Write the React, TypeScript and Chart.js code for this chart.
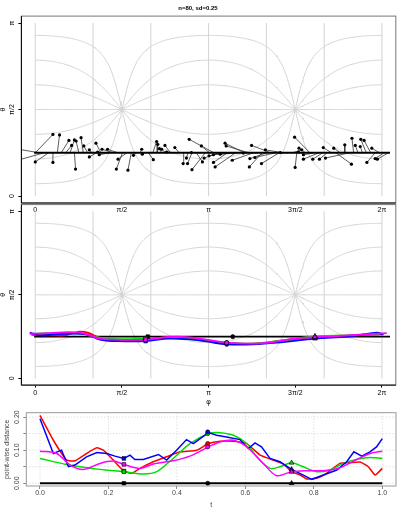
import React, { useEffect, useRef } from 'react';
import { Chart, registerables } from 'chart.js';

Chart.register(...registerables);

const PI = Math.PI;
const FONT = '"Liberation Sans", Arial, Helvetica, sans-serif';

// ---------------- Panel 1: noisy observations (phi, theta) and their true positions -------------
const OBS_PHI = [
  -0.60, -0.50, 0.00, 0.32, 0.32, 0.44, 0.61, 0.66, 0.71, 0.73,
  0.74, 0.83, 0.88, 0.98, 0.98, 1.10, 1.13, 1.16, 1.21, 1.31,
  1.47, 1.50, 1.68, 1.78, 1.93, 1.94, 2.14, 2.20, 2.22, 2.25,
  2.29, 2.35, 2.38, 2.53, 2.68, 2.74, 2.76, 2.79, 2.83, 2.84,
  3.01, 3.03, 3.06, 3.15, 3.23, 3.23, 3.26, 3.35, 3.44, 3.46,
  3.57, 3.77, 3.88, 3.89, 3.92, 3.98, 4.10, 4.17, 4.44, 4.70,
  4.71, 4.77, 4.78, 4.83, 4.86, 4.86, 5.03, 5.15, 5.22, 5.26,
  5.41, 5.61, 5.73, 5.74, 5.80, 5.89, 5.90, 5.96, 6.01, 6.10,
  6.16, 6.20,
];
const OBS_THETA = [
  0.90, 0.60, 0.62, 1.12, 0.61, 1.11, 1.01, 0.92, 1.02, 0.49,
  1.00, 1.06, 0.91, 0.84, 0.71, 0.96, 0.80, 0.75, 0.85, 0.85,
  0.49, 0.67, 0.47, 0.74, 0.85, 0.76, 0.66, 0.99, 0.94, 0.86,
  0.85, 0.92, 0.80, 0.88, 0.59, 0.69, 0.59, 1.03, 0.79, 0.48,
  0.91, 0.62, 0.69, 0.73, 0.61, 0.75, 0.53, 0.76, 0.96, 0.91,
  0.65, 0.78, 0.53, 0.68, 0.92, 0.70, 0.59, 0.84, 0.79, 1.07,
  0.52, 0.80, 0.87, 0.84, 0.75, 0.67, 0.67, 0.67, 0.88, 0.69,
  0.87, 0.93, 0.58, 1.05, 0.92, 0.90, 1.03, 1.01, 0.61, 0.87,
  0.68, 0.67,
];
const TRUE_PHI = [
  0.08, 0.16, 0.24, 0.00, 0.32, 0.40, 0.47, 0.55, 0.63, 0.71,
  0.79, 0.87, 0.95, 1.03, 1.11, 1.19, 1.26, 1.34, 1.42, 1.50,
  1.58, 1.66, 1.74, 1.82, 1.90, 1.98, 2.05, 2.13, 2.21, 2.29,
  2.37, 2.45, 2.53, 2.61, 2.69, 2.77, 2.84, 3.24, 3.00, 3.08,
  3.16, 2.92, 3.32, 3.40, 3.48, 3.56, 3.63, 3.71, 3.79, 3.87,
  3.95, 4.03, 4.11, 4.19, 4.27, 4.35, 4.42, 4.50, 4.58, 4.98,
  4.74, 4.82, 4.90, 4.66, 5.06, 5.14, 5.21, 5.29, 5.37, 5.69,
  5.53, 5.61, 5.45, 5.77, 5.85, 5.93, 6.00, 6.08, 6.16, 6.24,
  6.32, 6.40,
];
const TRUE_THETA = 0.785;
const TRUE_CURVE_PHI = [-0.02, 6.43];
const TRUE_CURVE_THETA = [0.785, 0.785];

// graticule of the rotated frame: meridians (multiples of pi/3) and tilted great circles (multiples of pi/7)
const MERIDIAN_STEPS = [0, 1, 2, 3, 4, 5, 6];
const TILT_STEPS = [-3, -2, -1, 0, 1, 2, 3];

// ---------------- Panel 2: estimated curves ----------------
const RED_PHI = [-0.07, 0.31, 0.53, 0.65, 0.80, 0.95, 1.10, 1.30, 1.55, 2.00, 2.38, 2.74, 3.10, 3.47, 3.95, 4.50, 5.07, 5.70, 6.31];
const RED_THETA = [0.82, 0.81, 0.81, 0.84, 0.88, 0.86, 0.79, 0.72, 0.70, 0.73, 0.777, 0.765, 0.715, 0.665, 0.653, 0.715, 0.777, 0.808, 0.827];
const GREEN_PHI = [-0.04, 0.39, 0.81, 1.17, 1.50, 2.00, 2.56, 2.99, 3.47, 3.95, 4.49, 5.07, 5.70, 6.25];
const GREEN_THETA = [0.84, 0.851, 0.84, 0.765, 0.74, 0.747, 0.758, 0.715, 0.672, 0.653, 0.715, 0.79, 0.81, 0.84];
const BLUE_PHI = [-0.10, 0.09, 0.33, 0.60, 0.93, 1.17, 1.48, 2.00, 2.38, 2.74, 3.10, 3.47, 3.95, 4.49, 5.07, 5.70, 6.19, 6.31];
const BLUE_THETA = [0.859, 0.808, 0.827, 0.84, 0.827, 0.728, 0.702, 0.702, 0.747, 0.739, 0.696, 0.64, 0.64, 0.683, 0.747, 0.79, 0.859, 0.827];
const MAGENTA_PHI = [-0.10, 0.27, 0.57, 0.81, 0.99, 1.17, 1.48, 2.00, 2.38, 2.74, 3.10, 3.47, 3.95, 4.31, 4.68, 5.07, 5.40, 5.88, 6.37];
const MAGENTA_THETA = [0.84, 0.851, 0.87, 0.859, 0.808, 0.747, 0.728, 0.728, 0.777, 0.777, 0.728, 0.672, 0.653, 0.683, 0.747, 0.777, 0.79, 0.821, 0.851];

const MID_MARK_PHI = [2.00, 3.47, 5.07];
const MID_BLACK_MARK_PHI = [2.04, 3.58, 5.07];
const MID_BLACK_MARK_THETA = [0.784, 0.784, 0.79];
const MID_RED_MARK = [0.728, 0.665, 0.777];
const MID_GREEN_MARK = [0.747, 0.672, 0.79];
const MID_BLUE_MARK = [0.702, 0.64, 0.747];
const MID_MAGENTA_MARK = [0.728, 0.672, 0.777];

// ---------------- Panel 3: point-wise distance ----------------
const RED_T = [0, 0.039, 0.078, 0.102, 0.136, 0.166, 0.185, 0.214, 0.245, 0.268, 0.292, 0.331, 0.370, 0.409, 0.458, 0.492, 0.526, 0.565, 0.604, 0.643, 0.681, 0.711, 0.735, 0.760, 0.779, 0.808, 0.837, 0.876, 0.906, 0.935, 0.959, 0.979, 1.0];
const RED_D = [0.205, 0.130, 0.070, 0.068, 0.090, 0.107, 0.100, 0.070, 0.037, 0.030, 0.045, 0.065, 0.080, 0.095, 0.100, 0.120, 0.127, 0.127, 0.120, 0.085, 0.070, 0.058, 0.035, 0.025, 0.013, 0.015, 0.030, 0.060, 0.062, 0.064, 0.050, 0.025, 0.045];
const BLUE_T = [0, 0.039, 0.063, 0.083, 0.102, 0.136, 0.166, 0.195, 0.219, 0.245, 0.263, 0.277, 0.302, 0.346, 0.370, 0.399, 0.428, 0.448, 0.492, 0.516, 0.545, 0.584, 0.609, 0.628, 0.647, 0.672, 0.701, 0.735, 0.759, 0.794, 0.828, 0.867, 0.896, 0.917, 0.940, 0.964, 0.983, 1.0];
const BLUE_D = [0.195, 0.090, 0.100, 0.050, 0.055, 0.080, 0.093, 0.090, 0.082, 0.075, 0.085, 0.072, 0.072, 0.087, 0.070, 0.100, 0.132, 0.120, 0.153, 0.145, 0.140, 0.132, 0.105, 0.122, 0.110, 0.075, 0.065, 0.042, 0.030, 0.012, 0.025, 0.040, 0.065, 0.095, 0.082, 0.095, 0.110, 0.135];
const GREEN_T = [0, 0.078, 0.175, 0.245, 0.302, 0.341, 0.389, 0.438, 0.492, 0.526, 0.565, 0.604, 0.633, 0.672, 0.701, 0.735, 0.769, 0.808, 0.847, 0.886, 0.925, 0.964, 1.0];
const GREEN_D = [0.075, 0.057, 0.042, 0.035, 0.028, 0.035, 0.075, 0.120, 0.150, 0.153, 0.145, 0.120, 0.080, 0.045, 0.050, 0.062, 0.050, 0.035, 0.040, 0.060, 0.072, 0.078, 0.075];
const MAGENTA_T = [0, 0.049, 0.088, 0.127, 0.175, 0.214, 0.245, 0.292, 0.331, 0.389, 0.438, 0.492, 0.526, 0.565, 0.604, 0.652, 0.691, 0.735, 0.779, 0.828, 0.876, 0.925, 0.964, 1.0];
const MAGENTA_D = [0.097, 0.090, 0.055, 0.042, 0.060, 0.067, 0.057, 0.045, 0.058, 0.068, 0.082, 0.110, 0.125, 0.130, 0.110, 0.060, 0.023, 0.035, 0.038, 0.038, 0.047, 0.072, 0.090, 0.097];
const BLACK_T = [0, 1];
const BLACK_D = [0, 0];

const MARK_T = [0.245, 0.49, 0.735];
const DIST_RED_MARK = [0.037, 0.120, 0.035];
const DIST_GREEN_MARK = [0.035, 0.150, 0.062];
const DIST_BLUE_MARK = [0.075, 0.155, 0.042];
const DIST_MAGENTA_MARK = [0.057, 0.110, 0.035];
const DIST_BLACK_MARK = [0, 0, 0];
const MARK_STYLES = ['rect', 'circle', 'triangle'];
const MARK_RADII = [2.6, 2.1, 2.8];

const PHI_TICKS = [0, PI / 2, PI, (3 * PI) / 2, 2 * PI];
const PHI_LABELS = ['0', 'π/2', 'π', '3π/2', '2π'];
const THETA_TICKS = [0, PI / 2, PI];
const THETA_LABELS = ['0', 'π/2', 'π'];
const T_TICKS = [0, 0.2, 0.4, 0.6, 0.8, 1.0];
const D_TICKS = [0, 0.05, 0.1, 0.15, 0.2];
const D_LABEL_VALUES = [0, 0.1, 0.2];
const D_LABELS = ['0.00', '0.10', '0.20'];

const C_RED = '#ff0000';
const C_GREEN = '#00dd00';
const C_BLUE = '#0000ff';
const C_MAGENTA = '#ff00ff';
const C_GRAT = '#d3d3d3';

const pts = (xs: number[], ys: number[]) => xs.map((x, i) => ({ x, y: ys[i] }));

function graticule() {
  const out: { x: number; y: number | null }[] = [];
  for (const k of MERIDIAN_STEPS) {
    const p = (k * PI) / 3;
    out.push({ x: p, y: 0 }, { x: p, y: PI }, { x: p, y: null });
  }
  for (const j of TILT_STEPS) {
    const tk = Math.tan((j * PI) / 7);
    for (let i = 0; i <= 360; i++) {
      const p = (2 * PI * i) / 360;
      out.push({ x: p, y: PI / 2 - Math.atan(tk * Math.cos(p)) });
    }
    out.push({ x: 2 * PI, y: null });
  }
  return out;
}

function segments() {
  const out: { x: number; y: number | null }[] = [];
  OBS_PHI.forEach((p, i) => {
    out.push({ x: p, y: OBS_THETA[i] }, { x: TRUE_PHI[i], y: TRUE_THETA }, { x: TRUE_PHI[i], y: null });
  });
  return out;
}

type FrameCfg = {
  box: string;
  axisDark: boolean;
  labelVals: number[];
  labels: string[];
  labelX: number;
  color: string;
  title?: string;
  titleX?: number;
  dotX?: number[];
  dotY?: number[];
};

function makeFrame(cfg: FrameCfg) {
  return {
    id: 'frame',
    beforeDatasetsDraw(chart: any) {
      if (!cfg.dotX && !cfg.dotY) return;
      const { ctx, chartArea: a, scales } = chart;
      ctx.save();
      ctx.strokeStyle = '#d3d3d3';
      ctx.lineWidth = 1;
      ctx.setLineDash([1, 2]);
      ctx.beginPath();
      (cfg.dotX || []).forEach((v) => {
        const p = scales.x.getPixelForValue(v);
        ctx.moveTo(p, a.top);
        ctx.lineTo(p, a.bottom);
      });
      (cfg.dotY || []).forEach((v) => {
        const p = scales.y.getPixelForValue(v);
        ctx.moveTo(a.left, p);
        ctx.lineTo(a.right, p);
      });
      ctx.stroke();
      ctx.restore();
    },
    afterDraw(chart: any) {
      const { ctx, chartArea: a, scales } = chart;
      ctx.save();
      ctx.lineWidth = 1;
      ctx.strokeStyle = cfg.box;
      ctx.strokeRect(a.left, a.top, a.right - a.left, a.bottom - a.top);
      if (cfg.axisDark) {
        ctx.strokeStyle = '#000';
        ctx.beginPath();
        ctx.moveTo(a.left, a.top);
        ctx.lineTo(a.left, a.bottom);
        ctx.lineTo(a.right, a.bottom);
        ctx.stroke();
      }
      ctx.fillStyle = cfg.color;
      ctx.font = `7px ${FONT}`;
      ctx.textAlign = 'center';
      ctx.textBaseline = 'middle';
      cfg.labelVals.forEach((v, i) => {
        const py = scales.y.getPixelForValue(v);
        ctx.save();
        ctx.translate(cfg.labelX, py);
        ctx.rotate(-PI / 2);
        ctx.fillText(cfg.labels[i], 0, 0);
        ctx.restore();
      });
      if (cfg.title) {
        ctx.save();
        ctx.translate(cfg.titleX, (a.top + a.bottom) / 2);
        ctx.rotate(-PI / 2);
        ctx.fillText(cfg.title, 0, 0);
        ctx.restore();
      }
      ctx.restore();
    },
  };
}

function phiAxis(height: number, withTicks: boolean, pad: number, title?: { text: string; bottom: number }) {
  return {
    type: 'linear',
    position: 'bottom',
    min: -0.2513,
    max: 2 * PI + 0.2513,
    afterBuildTicks: (s: any) => {
      s.ticks = PHI_TICKS.map((v) => ({ value: v }));
    },
    afterFit: (s: any) => {
      s.height = height;
    },
    ticks: {
      autoSkip: false,
      maxRotation: 0,
      minRotation: 0,
      padding: pad,
      color: '#000',
      font: { family: FONT, size: 7 },
      callback: (_v: any, i: number) => PHI_LABELS[i],
    },
    grid: {
      display: withTicks,
      drawOnChartArea: false,
      drawTicks: withTicks,
      tickLength: 2.5,
      tickColor: '#000',
    },
    border: { display: false },
    title: title
      ? {
          display: true,
          text: title.text,
          color: '#000',
          font: { family: FONT, size: 7 },
          padding: { top: 0, bottom: title.bottom },
        }
      : { display: false },
  };
}

function thetaAxis() {
  return {
    type: 'linear',
    min: -0.1257,
    max: PI + 0.1257,
    afterBuildTicks: (s: any) => {
      s.ticks = THETA_TICKS.map((v) => ({ value: v }));
    },
    afterFit: (s: any) => {
      s.width = 21.4;
    },
    ticks: { display: false },
    grid: { drawOnChartArea: false, drawTicks: true, tickLength: 3, tickColor: '#000' },
    border: { display: false },
  };
}

const baseOptions = {
  responsive: false,
  animation: false,
  events: [],
  devicePixelRatio: 1,
};

function topConfig(): any {
  return {
    type: 'scatter',
    data: {
      datasets: [
        { data: pts(OBS_PHI, OBS_THETA), showLine: false, pointRadius: 1.6, pointBackgroundColor: '#000', pointBorderWidth: 0, order: 1 },
        { data: pts(TRUE_CURVE_PHI, TRUE_CURVE_THETA), showLine: true, borderColor: '#000', borderWidth: 2, pointRadius: 0, order: 2 },
        { data: segments(), showLine: true, spanGaps: false, borderColor: '#333', borderWidth: 0.8, pointRadius: 0, order: 3 },
        { data: graticule(), showLine: true, spanGaps: false, borderColor: C_GRAT, borderWidth: 1, pointRadius: 0, order: 4 },
      ],
    },
    options: {
      ...baseOptions,
      layout: { padding: { left: 0, right: 11.2, top: 0, bottom: 0 } },
      plugins: {
        legend: { display: false },
        tooltip: { enabled: false },
        title: {
          display: true,
          text: 'n=80, sd=0.25',
          color: '#000',
          font: { family: FONT, size: 6, weight: 'bold' },
          padding: { top: 4.7, bottom: 4.2 },
        },
      },
      scales: { x: phiAxis(13, false, 2.8), y: thetaAxis() },
    },
    plugins: [
      makeFrame({ box: '#777', axisDark: true, labelVals: THETA_TICKS, labels: THETA_LABELS, labelX: 12.3, color: '#000', title: 'θ', titleX: 3.5 }),
    ],
  };
}

function markerSet(xs: number[], ys: number[], color: string, order: number) {
  return {
    data: pts(xs, ys),
    showLine: false,
    pointStyle: MARK_STYLES,
    pointRadius: MARK_RADII,
    pointBackgroundColor: color,
    pointBorderColor: '#000',
    pointBorderWidth: 0.6,
    order,
  };
}

function lineSet(xs: number[], ys: number[], color: string, width: number, tension: number, order: number) {
  return { data: pts(xs, ys), showLine: true, borderColor: color, borderWidth: width, tension, pointRadius: 0, order };
}

function midConfig(): any {
  return {
    type: 'scatter',
    data: {
      datasets: [
        markerSet(MID_MARK_PHI, MID_MAGENTA_MARK, C_MAGENTA, 0),
        markerSet(MID_MARK_PHI, MID_BLUE_MARK, C_BLUE, 0),
        markerSet(MID_MARK_PHI, MID_GREEN_MARK, C_GREEN, 0),
        markerSet(MID_MARK_PHI, MID_RED_MARK, C_RED, 0),
        markerSet(MID_BLACK_MARK_PHI, MID_BLACK_MARK_THETA, '#000', 0),
        lineSet(MAGENTA_PHI, MAGENTA_THETA, C_MAGENTA, 1.8, 0.4, 1),
        lineSet(BLUE_PHI, BLUE_THETA, C_BLUE, 1.8, 0.4, 2),
        lineSet(GREEN_PHI, GREEN_THETA, C_GREEN, 1.8, 0.4, 3),
        lineSet(RED_PHI, RED_THETA, C_RED, 1.8, 0.4, 4),
        lineSet(TRUE_CURVE_PHI, TRUE_CURVE_THETA, '#000', 1.6, 0, 5),
        { data: graticule(), showLine: true, spanGaps: false, borderColor: C_GRAT, borderWidth: 1, pointRadius: 0, order: 6 },
      ],
    },
    options: {
      ...baseOptions,
      layout: { padding: { left: 0, right: 11.2, top: 3.3, bottom: 0 } },
      plugins: { legend: { display: false }, tooltip: { enabled: false } },
      scales: { x: phiAxis(24.9, true, 1.2, { text: 'φ', bottom: 3.8 }), y: thetaAxis() },
    },
    plugins: [
      makeFrame({ box: '#777', axisDark: true, labelVals: THETA_TICKS, labels: THETA_LABELS, labelX: 12.3, color: '#000', title: 'θ', titleX: 3.5 }),
    ],
  };
}

function botConfig(): any {
  return {
    type: 'scatter',
    data: {
      datasets: [
        markerSet(MARK_T, DIST_BLACK_MARK, '#000', 0),
        markerSet(MARK_T, DIST_MAGENTA_MARK, C_MAGENTA, 0),
        markerSet(MARK_T, DIST_BLUE_MARK, C_BLUE, 0),
        markerSet(MARK_T, DIST_GREEN_MARK, C_GREEN, 0),
        markerSet(MARK_T, DIST_RED_MARK, C_RED, 0),
        lineSet(BLACK_T, BLACK_D, '#000', 2, 0, 1),
        lineSet(MAGENTA_T, MAGENTA_D, C_MAGENTA, 1.5, 0.3, 2),
        lineSet(BLUE_T, BLUE_D, C_BLUE, 1.5, 0, 3),
        lineSet(GREEN_T, GREEN_D, C_GREEN, 1.5, 0.3, 4),
        lineSet(RED_T, RED_D, C_RED, 1.5, 0.15, 5),
      ],
    },
    options: {
      ...baseOptions,
      layout: { padding: { left: 0, right: 11, top: 12.7, bottom: 0 } },
      plugins: { legend: { display: false }, tooltip: { enabled: false } },
      scales: {
        x: {
          type: 'linear',
          min: -0.04,
          max: 1.04,
          afterBuildTicks: (s: any) => {
            s.ticks = T_TICKS.map((v) => ({ value: v }));
          },
          afterFit: (s: any) => {
            s.height = 43;
          },
          ticks: {
            autoSkip: false,
            maxRotation: 0,
            minRotation: 0,
            padding: 0.1,
            color: '#444',
            font: { family: FONT, size: 7 },
            callback: (v: any) => Number(v).toFixed(1),
          },
          grid: { drawOnChartArea: false, drawTicks: true, tickLength: 3, tickColor: '#888' },
          border: { display: false },
          title: {
            display: true,
            text: 't',
            color: '#444',
            font: { family: FONT, size: 7 },
            padding: { top: 0, bottom: 19.8 },
          },
        },
        y: {
          type: 'linear',
          min: -0.0082,
          max: 0.2132,
          afterBuildTicks: (s: any) => {
            s.ticks = D_TICKS.map((v) => ({ value: v }));
          },
          afterFit: (s: any) => {
            s.width = 26.3;
          },
          ticks: { display: false },
          grid: { drawOnChartArea: false, drawTicks: true, tickLength: 3, tickColor: '#888' },
          border: { display: false },
        },
      },
    },
    plugins: [
      makeFrame({
        box: '#999',
        axisDark: false,
        labelVals: D_LABEL_VALUES,
        labels: D_LABELS,
        labelX: 17.3,
        color: '#444',
        title: 'point-wise distance',
        titleX: 7.3,
        dotX: T_TICKS,
        dotY: D_TICKS,
      }),
    ],
  };
}

function Panel({ top, height, build }: { top: number; height: number; build: () => any }) {
  const ref = useRef<HTMLCanvasElement>(null);
  useEffect(() => {
    const chart = new Chart(ref.current as HTMLCanvasElement, build());
    return () => chart.destroy();
  }, []);
  return (
    <canvas
      ref={ref}
      width={407}
      height={height}
      style={{ position: 'absolute', left: 0, top, width: 407, height, display: 'block' }}
    />
  );
}

export default function App() {
  return (
    <div style={{ position: 'fixed', left: 0, top: 0, width: 407, height: 529, background: '#fff', overflow: 'hidden' }}>
      <Panel top={0} height={216} build={topConfig} />
      <Panel top={200} height={210} build={midConfig} />
      <Panel top={400} height={129} build={botConfig} />
    </div>
  );
}
